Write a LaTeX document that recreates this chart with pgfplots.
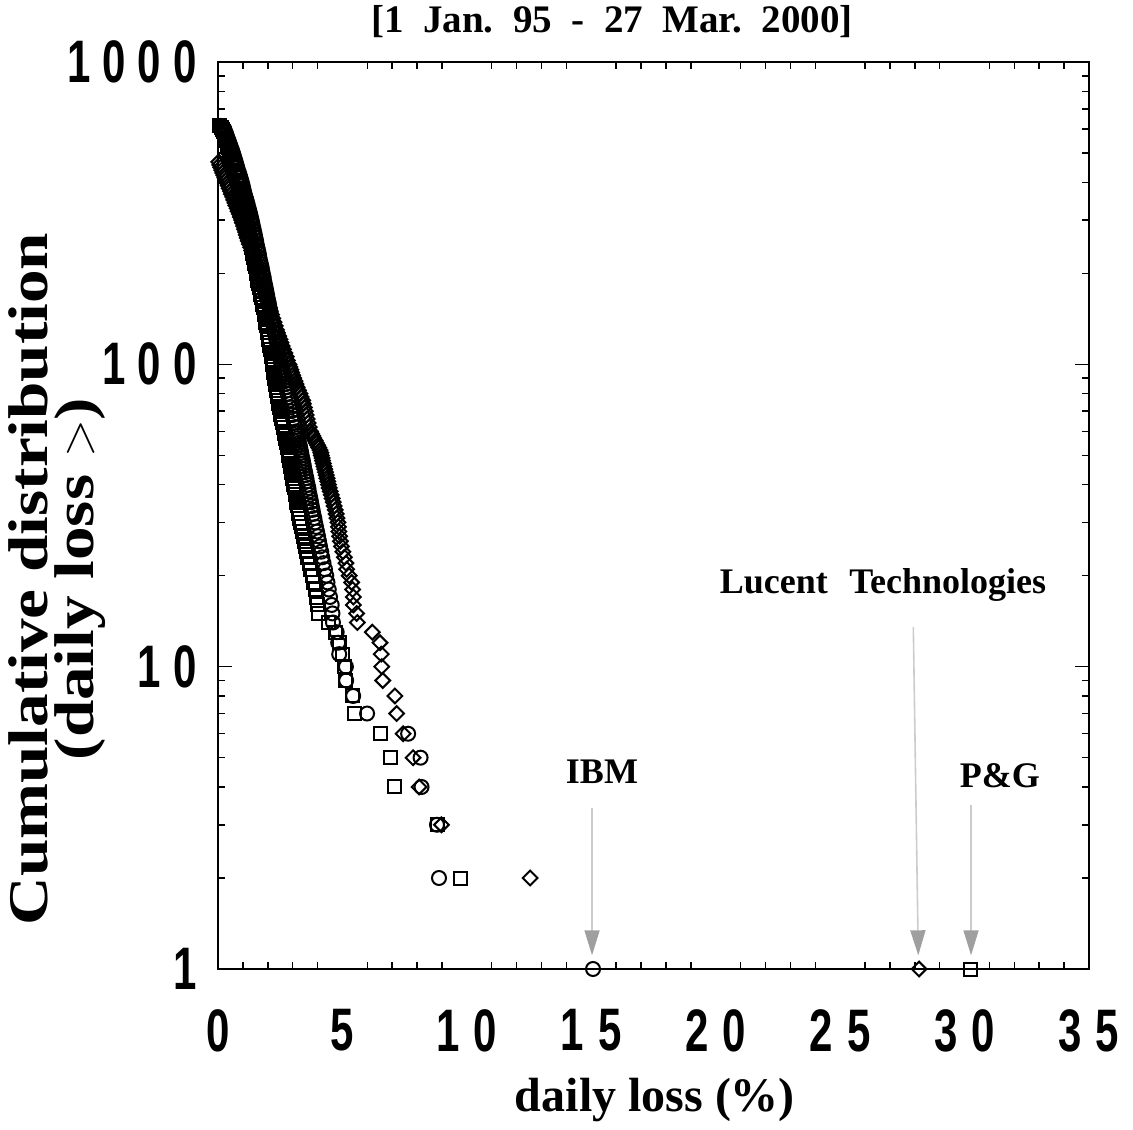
\documentclass[border=0pt]{standalone}
\usepackage{fontspec}
\setmainfont{Liberation Serif}
\newfontfamily\tickfont[FakeStretch=0.7]{Liberation Sans}
\newfontfamily\ylabfont[FakeStretch=1.2]{Liberation Serif}
\usepackage{pgfplots}
\usepackage{pgfplotstable}
\pgfplotsset{compat=1.18}
\usetikzlibrary{arrows.meta}

% cumulative count n of daily losses larger than x (%): squares P&G, circles IBM, diamonds Lucent
\pgfplotstableread{
n    xs     xc     xd
1    30.22  15.07  28.17
2    9.76   8.88   12.54
3    8.82   8.80   8.98
4    7.11   8.18   8.08
5    6.95   8.14   7.84
6    6.54   7.64   7.44
7    5.50   5.99   7.18
8    5.42   5.43   7.11
9    5.12   5.15   6.62
10   5.10   5.14   6.58
11   5.00   4.87   6.56
12   4.88   4.83   6.51
13   4.72   4.77   6.20
14   4.45   4.62   5.60
15   4.02   4.60   5.57
16   4.00   4.57   5.44
17   3.95   4.50   5.44
18   3.90   4.45   5.41
19   3.85   4.40   5.37
20   3.80   4.35   5.27
21   3.73   4.30   5.17
22   3.67   4.24   5.14
23   3.61   4.19   5.08
24   3.55   4.15   5.02
25   3.50   4.10   4.96
26   3.46   4.06   4.92
27   3.42   4.02   4.89
28   3.38   3.98   4.86
29   3.34   3.94   4.84
30   3.30   3.90   4.82
31   3.27   3.87   4.78
32   3.24   3.83   4.75
33   3.22   3.80   4.71
34   3.19   3.77   4.67
35   3.17   3.74   4.63
36   3.14   3.71   4.59
37   3.12   3.68   4.55
38   3.10   3.65   4.51
39   3.07   3.63   4.47
40   3.05   3.60   4.44
41   3.03   3.57   4.41
42   3.01   3.55   4.38
43   2.99   3.52   4.35
44   2.97   3.50   4.32
45   2.95   3.47   4.29
46   2.93   3.45   4.26
47   2.91   3.43   4.23
48   2.89   3.41   4.20
49   2.87   3.38   4.18
50   2.85   3.36   4.15
51   2.83   3.34   4.13
52   2.82   3.32   4.10
53   2.80   3.30   4.05
54   2.78   3.28   4.00
55   2.76   3.25   3.95
56   2.74   3.23   3.90
57   2.72   3.21   3.85
58   2.70   3.19   3.81
59   2.68   3.16   3.76
60   2.67   3.14   3.72
62   2.63   3.10   3.67
64   2.60   3.06   3.62
66   2.56   3.02   3.58
68   2.53   2.99   3.54
70   2.50   2.95   3.51
72   2.48   2.92   3.47
74   2.45   2.89   3.43
76   2.43   2.86   3.40
78   2.41   2.83   3.34
80   2.39   2.80   3.29
82   2.37   2.77   3.23
84   2.35   2.75   3.18
86   2.33   2.72   3.13
88   2.31   2.69   3.09
90   2.29   2.67   3.04
92   2.27   2.64   3.00
94   2.25   2.62   2.96
96   2.23   2.60   2.93
98   2.22   2.57   2.89
100  2.20   2.55   2.85
103  2.17   2.52   2.79
106  2.15   2.49   2.74
109  2.13   2.45   2.69
112  2.10   2.42   2.63
115  2.08   2.39   2.58
118  2.06   2.37   2.53
121  2.04   2.34   2.49
124  2.01   2.31   2.44
127  1.99   2.28   2.39
130  1.97   2.26   2.35
134  1.95   2.23   2.30
138  1.92   2.19   2.25
142  1.90   2.16   2.20
146  1.87   2.13   2.15
150  1.85   2.10   2.10
154  1.82   2.07   2.06
158  1.80   2.05   2.02
162  1.77   2.02   1.98
166  1.74   1.99   1.94
170  1.72   1.97   1.90
175  1.69   1.94   1.86
180  1.66   1.91   1.81
185  1.63   1.88   1.77
190  1.60   1.85   1.73
195  1.58   1.83   1.69
200  1.55   1.80   1.65
205  1.53   1.77   1.61
210  1.50   1.75   1.57
215  1.48   1.72   1.53
220  1.46   1.69   1.49
226  1.43   1.66   1.44
232  1.40   1.64   1.39
238  1.38   1.61   1.35
244  1.35   1.58   1.31
250  1.33   1.55   1.26
256  1.31   1.53   1.22
262  1.28   1.50   1.18
268  1.26   1.48   1.14
274  1.24   1.45   1.11
280  1.22   1.43   1.07
287  1.19   1.40   1.03
294  1.17   1.37   0.98
300  1.15   1.35   0.95
307  1.12   1.32   0.90
314  1.09   1.29   0.86
321  1.07   1.26   0.81
328  1.04   1.23   0.77
335  1.02   1.20   0.72
342  0.99   1.17   0.68
350  0.96   1.14   0.63
358  0.93   1.10   0.59
366  0.91   1.07   0.54
374  0.88   1.04   0.50
382  0.86   1.01   0.45
390  0.83   0.99   0.41
398  0.81   0.96   0.37
406  0.78   0.93   0.33
414  0.75   0.90   0.28
422  0.73   0.87   0.24
430  0.70   0.84   0.19
439  0.67   0.80   0.15
448  0.65   0.77   0.11
457  0.62   0.74   0.07
467  0.59   0.71   0.03
475  0.57   0.68   nan
484  0.54   0.65   nan
493  0.52   0.62   nan
502  0.49   0.59   nan
511  0.46   0.56   nan
520  0.44   0.52   nan
530  0.40   0.49   nan
540  0.37   0.45   nan
550  0.34   0.42   nan
560  0.31   0.38   nan
570  0.28   0.35   nan
580  0.26   0.32   nan
590  0.23   0.28   nan
600  0.20   0.25   nan
608  0.14   0.17   nan
615  0.08   0.10   nan
}\losses

\begin{document}
\begin{tikzpicture}
\begin{axis}[
    at={(0pt,0pt)}, anchor=south west,
    scale only axis, width=435.5pt, height=453.5pt,
    xmin=0, xmax=35,
    ymode=log, ymin=1, ymax=1000,
    clip=false,
    axis line style={line width=0.9pt},
    tick align=inside,
    xtick={0,5,...,35},
    xticklabels={0,5,1\hspace{7pt}0,1\hspace{7pt}5,2\hspace{7pt}0,2\hspace{7pt}5,3\hspace{7pt}0,3\hspace{7pt}5},
    minor x tick num=4,
    ytick={1,10,100,1000},
    yticklabels={1,1\hspace{6pt}0,1\hspace{6pt}0\hspace{6pt}0,1\hspace{6pt}0\hspace{6pt}0\hspace{6pt}0},
    minor ytick={2,3,4,5,6,7,8,9,20,30,40,50,60,70,80,90,200,300,400,500,600,700,800,900},
    major tick length=7pt, minor tick length=3.5pt,
    tick style={line width=0.75pt, black},
    major x tick style={draw=none},
    tick label style={font=\tickfont\bfseries\fontsize{30}{30}\selectfont, inner sep=0pt},
    xticklabel style={yshift=-20pt},
    yticklabel style={xshift=-10.5pt},
]
\addplot[only marks, mark=square, mark size=3.25pt, mark options={line width=1pt}]
    table[x=xs, y=n] {\losses};
\addplot[only marks, mark=o, mark size=3.5pt, mark options={line width=1pt}]
    table[x=xc, y=n] {\losses};
\addplot[only marks, mark=square, mark size=2.6pt, mark options={rotate=45, line width=1pt}]
    table[x=xd, y=n] {\losses};

\draw[gray!40, line width=0.8pt, -{Triangle[length=12.5pt, width=7.5pt, color=gray!75]}]
    (axis cs:15.03,3.40) -- (axis cs:15.03,1.11);
\draw[gray!40, line width=0.8pt, -{Triangle[length=12.5pt, width=7.5pt, color=gray!75]}]
    (axis cs:27.94,13.55) -- (axis cs:28.14,1.11);
\draw[gray!40, line width=0.8pt, -{Triangle[length=12.5pt, width=7.5pt, color=gray!75]}]
    (axis cs:30.26,3.48) -- (axis cs:30.26,1.11);

\node[font=\bfseries\fontsize{18}{18}\selectfont] at (axis cs:15.43,4.48) {IBM};
\node[font=\bfseries\fontsize{18}{18}\selectfont] at (axis cs:26.72,18.6) {Lucent\hspace{0.6em}Technologies};
\node[font=\bfseries\fontsize{18}{18}\selectfont] at (axis cs:31.42,4.37) {P\&G};
\end{axis}

\node[font=\bfseries\fontsize{19.5}{19.5}\selectfont] at (197pt,473.5pt)
    {[1\hspace{0.5em}Jan.\hspace{0.5em}95\hspace{0.5em}-\hspace{0.5em}27\hspace{0.5em}Mar.\hspace{0.5em}2000]};
\node[font=\bfseries\fontsize{24}{22.5}\selectfont] at (218.5pt,-65.5pt) {daily loss (\%)};
\node[font=\ylabfont\bfseries\fontsize{28}{23}\selectfont, rotate=90, align=center] at (-80.5pt,195pt)
    {Cumulative distribution\\(daily loss $>$)};

\pgfresetboundingbox
\path[use as bounding box] (-109pt,-80pt) rectangle (457.5pt,484.5pt);
\end{tikzpicture}
\end{document}
